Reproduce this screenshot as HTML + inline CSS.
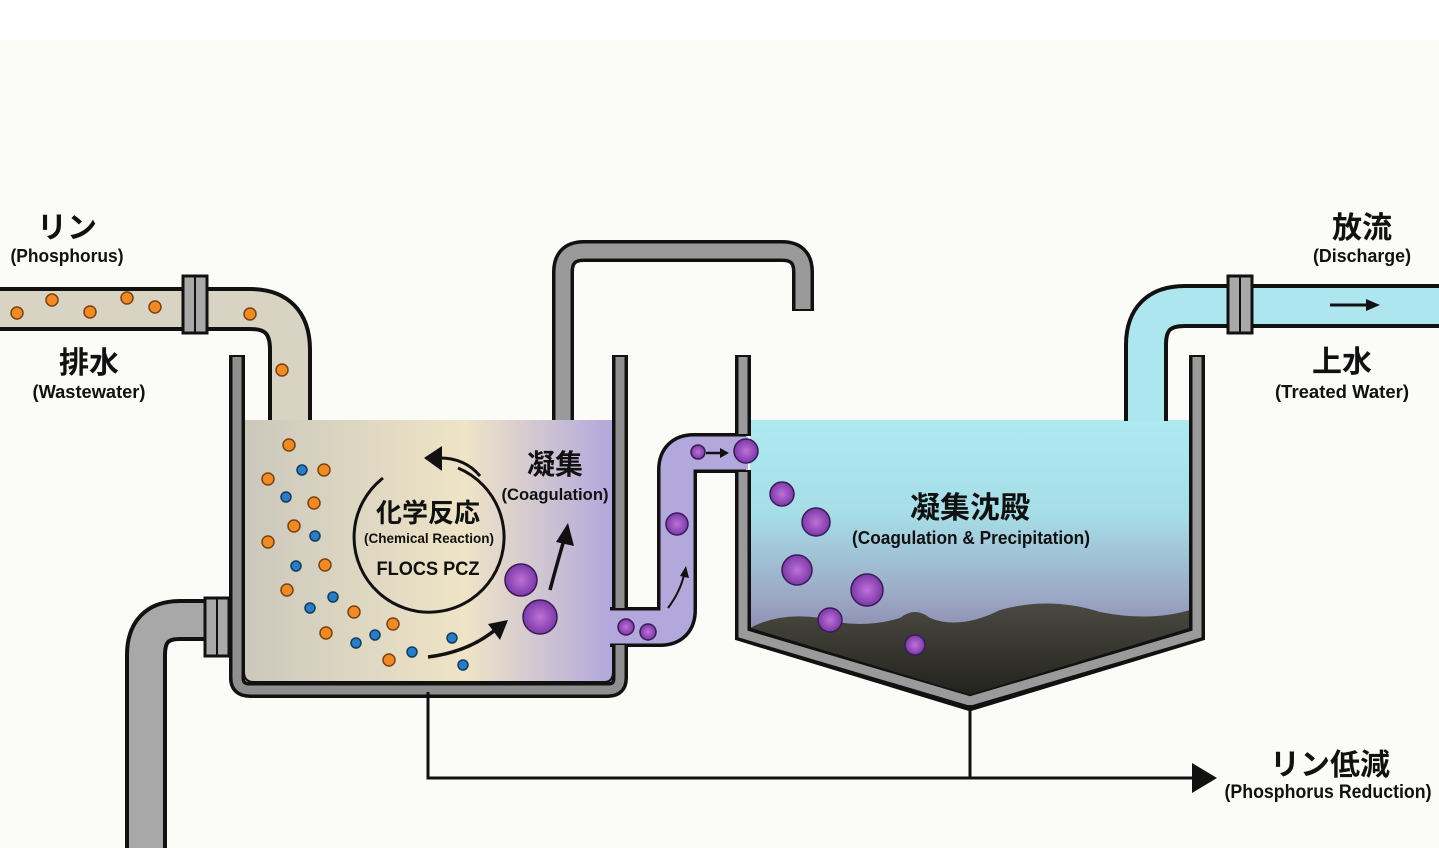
<!DOCTYPE html>
<html><head><meta charset="utf-8"><style>
html,body{margin:0;padding:0;background:#fbfbf8;}
svg{display:block;}
text{font-family:"Liberation Sans","Noto Sans CJK JP",sans-serif;font-weight:bold;fill:#111;text-anchor:middle;}
</style></head><body>
<svg width="1439" height="848" viewBox="0 0 1439 848" xmlns="http://www.w3.org/2000/svg">
<defs>
<linearGradient id="lt" x1="0" x2="1" y1="0" y2="0">
<stop offset="0" stop-color="#cbc8bc"/><stop offset="0.6" stop-color="#efe4c6"/><stop offset="1" stop-color="#b1a7dd"/>
</linearGradient>
<linearGradient id="rt" x1="0" x2="0" y1="0" y2="1">
<stop offset="0" stop-color="#aeeaf1"/><stop offset="0.35" stop-color="#a6dce6"/><stop offset="0.65" stop-color="#9ba6c4"/><stop offset="0.8" stop-color="#8a86a8"/><stop offset="1" stop-color="#6c6a80"/>
</linearGradient>
<linearGradient id="sl" x1="0" x2="0" y1="0" y2="1">
<stop offset="0" stop-color="#4a4a42"/><stop offset="1" stop-color="#22221c"/>
</linearGradient>
<radialGradient id="fl"><stop offset="0" stop-color="#c070d8"/><stop offset="1" stop-color="#7a3aa8"/></radialGradient>
</defs>
<rect width="1439" height="40" fill="#ffffff"/>

<path d="M0,309 H250 Q290,309 290,350 V421" fill="none" stroke="#111" stroke-width="44"/>
<path d="M0,309 H250 Q290,309 290,350 V421" fill="none" stroke="#d8d3c3" stroke-width="36"/>
<rect x="183" y="276" width="24" height="57" fill="#a9a9a9" stroke="#111" stroke-width="3"/>
<line x1="195" y1="276" x2="195" y2="333" stroke="#111" stroke-width="2"/>

<path d="M146,850 V655 Q146,620 180,620 H232" fill="none" stroke="#111" stroke-width="42"/>
<path d="M146,850 V655 Q146,620 180,620 H232" fill="none" stroke="#a8a8a8" stroke-width="34"/>
<rect x="205" y="598" width="24" height="58" fill="#a9a9a9" stroke="#111" stroke-width="3"/>
<line x1="217" y1="598" x2="217" y2="656" stroke="#111" stroke-width="2"/>

<path d="M563,421 V272 Q563,251 584,251 H782 Q803,251 803,272 V311" fill="none" stroke="#111" stroke-width="22"/>
<path d="M563,421 V272 Q563,251 584,251 H782 Q803,251 803,272 V309" fill="none" stroke="#9a9a9a" stroke-width="15"/>

<rect x="244" y="420" width="370" height="263" fill="url(#lt)"/>
<path d="M610,627 H660 Q677,627 677,610 V470 Q677,453 694,453 H746" fill="none" stroke="#111" stroke-width="40"/>
<path d="M608,627 H660 Q677,627 677,610 V470 Q677,453 694,453 H748" fill="none" stroke="#b3a8dc" stroke-width="33"/>

<path d="M237,355 V678 Q237,690 250,690 H608 Q620,690 620,678 V645 M620,608 V355" fill="none" stroke="#111" stroke-width="16"/>
<path d="M237,357 V678 Q237,690 250,690 H608 Q620,690 620,678 V645 M620,608 V357" fill="none" stroke="#8f8f8f" stroke-width="9"/>
<path d="M244,672 Q244,682 254,682 H604 Q613,682 613,672" fill="none" stroke="#111" stroke-width="2"/>

<path d="M750,420 H1190 V634 L970,697 L750,634 Z" fill="url(#rt)"/>
<path d="M750,628 Q780,612 820,618 Q860,630 900,618 Q915,606 930,618 Q960,630 1000,610 Q1050,596 1100,612 Q1150,622 1190,610 V634 L970,697 L750,634 Z" fill="url(#sl)"/>

<path d="M743,355 V436 M743,470 V634 L970,703 L1197,634 V355" fill="none" stroke="#111" stroke-width="16"/>
<path d="M743,357 V434 M743,472 V634 L970,701 L1197,634 V357" fill="none" stroke="#9a9a9a" stroke-width="9"/>

<path d="M1146,421 V345 Q1146,306 1185,306 H1440" fill="none" stroke="#111" stroke-width="44"/>
<path d="M1146,421 V345 Q1146,306 1185,306 H1440" fill="none" stroke="#aee6ef" stroke-width="36"/>
<rect x="1228" y="276" width="24" height="57" fill="#a9a9a9" stroke="#111" stroke-width="3"/>
<line x1="1240" y1="276" x2="1240" y2="333" stroke="#111" stroke-width="2"/>
<line x1="1330" y1="305" x2="1368" y2="305" stroke="#111" stroke-width="3"/>
<path d="M1366,299 L1380,305 L1366,311 Z" fill="#111"/>

<path d="M428,692 V778 H1195 M970,705 V778" fill="none" stroke="#111" stroke-width="3"/>
<path d="M1192,763 L1217,778 L1192,793 Z" fill="#111"/>

<g fill="#f08a24" stroke="#7a420f" stroke-width="1.5">
<circle cx="17" cy="313" r="6"/><circle cx="52" cy="300" r="6"/><circle cx="90" cy="312" r="6"/><circle cx="127" cy="298" r="6"/><circle cx="155" cy="307" r="6"/><circle cx="250" cy="314" r="6"/><circle cx="282" cy="370" r="6"/>
<circle cx="289" cy="445" r="6"/><circle cx="268" cy="479" r="6"/><circle cx="324" cy="470" r="6"/><circle cx="314" cy="503" r="6"/><circle cx="294" cy="526" r="6"/><circle cx="268" cy="542" r="6"/><circle cx="325" cy="565" r="6"/><circle cx="287" cy="590" r="6"/><circle cx="354" cy="612" r="6"/><circle cx="326" cy="633" r="6"/><circle cx="389" cy="660" r="6"/><circle cx="393" cy="624" r="6"/>
</g>
<g fill="#2a7cc4" stroke="#123c60" stroke-width="1.5">
<circle cx="302" cy="470" r="5"/><circle cx="286" cy="497" r="5"/><circle cx="315" cy="536" r="5"/><circle cx="296" cy="566" r="5"/><circle cx="333" cy="597" r="5"/><circle cx="310" cy="608" r="5"/><circle cx="356" cy="643" r="5"/><circle cx="375" cy="635" r="5"/><circle cx="412" cy="652" r="5"/><circle cx="452" cy="638" r="5"/><circle cx="463" cy="665" r="5"/>
</g>

<g fill="url(#fl)" stroke="#3a1a55" stroke-width="1.5">
<circle cx="521" cy="580" r="16"/><circle cx="540" cy="617" r="17"/><circle cx="698" cy="452" r="7"/><circle cx="746" cy="451" r="12"/><circle cx="677" cy="524" r="11"/><circle cx="626" cy="627" r="8"/><circle cx="648" cy="632" r="8"/><circle cx="782" cy="494" r="12"/><circle cx="816" cy="522" r="14"/><circle cx="797" cy="570" r="15"/><circle cx="867" cy="590" r="16"/><circle cx="830" cy="620" r="12"/><circle cx="915" cy="645" r="10"/>
</g>

<path d="M458,468 A75,75 0 1 1 383,478" fill="none" stroke="#111" stroke-width="3"/>
<path d="M480,476 Q465,458 440,458" fill="none" stroke="#111" stroke-width="3"/>
<path d="M442,446 L424,458 L442,471 Z" fill="#111"/>
<path d="M428,657 Q468,652 495,630" fill="none" stroke="#111" stroke-width="3.5"/>
<path d="M488,624 L508,620 L500,640 Z" fill="#111"/>
<path d="M550,590 Q558,560 564,540" fill="none" stroke="#111" stroke-width="3.5"/>
<path d="M556,542 L568,523 L574,546 Z" fill="#111"/>
<path d="M668,608 Q680,592 684,575" fill="none" stroke="#111" stroke-width="2"/>
<path d="M680,576 L686,566 L689,578 Z" fill="#111"/>
<line x1="706" y1="453" x2="722" y2="453" stroke="#111" stroke-width="2.5"/>
<path d="M720,448 L729,453 L720,458 Z" fill="#111"/>

<text x="428" y="522" font-size="26">化学反応</text>
<text x="429" y="543" font-size="14" textLength="130" lengthAdjust="spacingAndGlyphs">(Chemical Reaction)</text>
<text x="428" y="575" font-size="19" textLength="103" lengthAdjust="spacingAndGlyphs">FLOCS PCZ</text>
<text x="555" y="474" font-size="28">凝集</text>
<text x="555" y="500" font-size="17" textLength="107" lengthAdjust="spacingAndGlyphs">(Coagulation)</text>
<text x="970" y="518" font-size="30">凝集沈殿</text>
<text x="971" y="544" font-size="18" textLength="238" lengthAdjust="spacingAndGlyphs">(Coagulation &amp; Precipitation)</text>
<text x="67" y="238" font-size="30">リン</text>
<text x="67" y="262" font-size="18" textLength="113" lengthAdjust="spacingAndGlyphs">(Phosphorus)</text>
<text x="89" y="373" font-size="30">排水</text>
<text x="89" y="398" font-size="18" textLength="113" lengthAdjust="spacingAndGlyphs">(Wastewater)</text>
<text x="1362" y="238" font-size="30">放流</text>
<text x="1362" y="262" font-size="18" textLength="98" lengthAdjust="spacingAndGlyphs">(Discharge)</text>
<text x="1342" y="372" font-size="30">上水</text>
<text x="1342" y="398" font-size="18" textLength="134" lengthAdjust="spacingAndGlyphs">(Treated Water)</text>
<text x="1330" y="775" font-size="30">リン低減</text>
<text x="1328" y="798" font-size="19" textLength="207" lengthAdjust="spacingAndGlyphs">(Phosphorus Reduction)</text>
</svg>
</body></html>
